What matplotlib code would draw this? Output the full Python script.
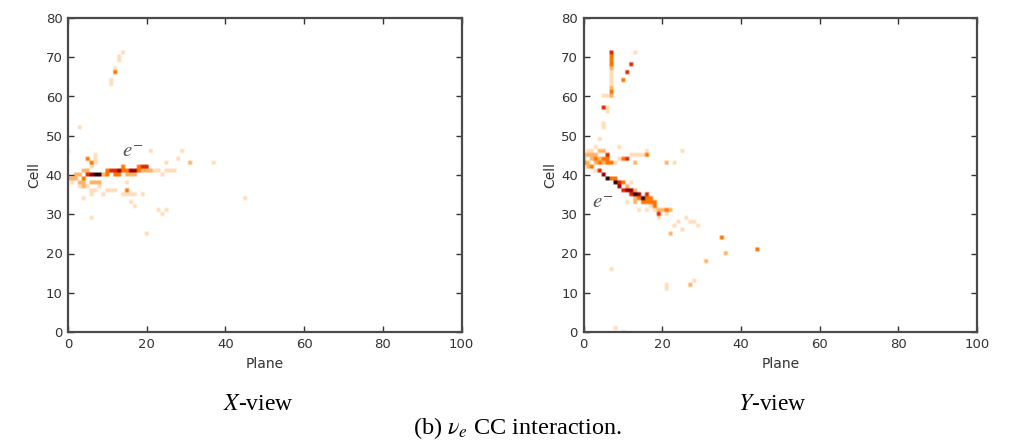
import numpy as np
import matplotlib
matplotlib.use("Agg")
import matplotlib.pyplot as plt

plt.rcParams['mathtext.fontset'] = 'stix'

# hit intensity per level, 0 = empty, 1 = black
level_pale = 0.07
level_light = 0.15
level_orange = 0.27
level_red = 0.42
level_dark = 0.58
level_black = 0.9

# X view hits as (plane, cell)
x_pale = [(14, 71), (13, 70), (13, 69), (12, 67), (11, 64), (11, 63), (3, 52), (0, 46),
          (7, 45), (7, 44), (7, 43), (6, 42), (21, 46), (29, 46), (28, 44), (37, 43), (25, 43),
          (26, 41), (27, 41), (45, 34), (20, 25), (23, 31), (25, 31), (24, 30), (6, 29),
          (17, 32), (16, 33), (15, 38), (10, 36), (11, 36), (12, 36), (14, 35), (15, 35),
          (16, 35), (17, 35), (19, 35), (6, 35), (7, 36), (9, 35), (4, 34), (1, 38),
          (5, 37), (3, 37), (6, 36), (8, 37), (24, 40), (25, 41), (22, 41), (23, 41)]
x_light = [(31, 43), (0, 39), (1, 39), (2, 39), (3, 40), (4, 41), (3, 38), (4, 38), (4, 37),
           (6, 38), (7, 38), (8, 38), (19, 41), (20, 41), (21, 41), (16, 40), (17, 40),
           (2, 40), (5, 41), (9, 40), (15, 40)]
x_orange = [(12, 66), (5, 44), (6, 43), (15, 36), (10, 40), (12, 40), (13, 40), (14, 42),
            (18, 42), (14, 41), (15, 41), (18, 41), (4, 39), (10, 41)]
x_red = [(11, 41), (12, 41), (19, 42), (20, 42), (5, 40)]
x_dark = [(13, 41), (16, 41), (17, 41), (6, 40)]
x_black = [(7, 40), (8, 40)]

# Y view hits as (plane, cell)
y_pale = [(7, 66), (7, 65), (7, 64), (7, 63), (5, 60), (6, 60), (6, 57), (6, 56), (5, 53),
          (5, 52), (4, 49), (13, 71), (25, 46), (9, 47), (3, 47), (9, 44), (12, 45), (13, 45),
          (14, 45), (15, 45), (16, 46), (23, 43), (3, 41), (12, 38), (14, 31), (16, 31),
          (26, 29), (24, 28), (27, 28), (28, 28), (29, 27), (23, 27), (25, 26), (19, 29),
          (21, 30), (21, 12), (21, 11), (8, 1), (10, 0), (28, 13), (7, 16), (11, 33),
          (18, 31), (17, 32), (8, 43), (1, 46), (2, 46)]
y_light = [(7, 67), (7, 62), (7, 60), (1, 45), (2, 45), (4, 46), (5, 46), (2, 44), (3, 43),
           (13, 43), (21, 43), (22, 25), (13, 34), (13, 33), (20, 31), (22, 31), (27, 12),
           (31, 18), (36, 20), (0, 45), (0, 44), (1, 42), (4, 44), (3, 45), (5, 43), (1, 43),
           (19, 31), (11, 37), (13, 36)]
y_orange = [(7, 70), (7, 69), (7, 68), (7, 61), (10, 64), (0, 43), (3, 44), (4, 43), (2, 42),
            (6, 44), (7, 43), (10, 44), (16, 45), (7, 39), (10, 38), (16, 34), (17, 34),
            (17, 33), (18, 33), (18, 32), (21, 31), (35, 24), (44, 21), (15, 33), (14, 34),
            (16, 33), (6, 43), (5, 44), (8, 39)]
y_red = [(7, 71), (5, 57), (12, 68), (11, 66), (6, 45), (11, 44), (4, 41), (19, 30), (16, 35),
         (10, 36), (9, 38), (12, 35)]
y_dark = [(9, 37), (11, 36), (12, 36), (5, 40), (14, 35)]
y_black = [(6, 39), (8, 38), (13, 35), (15, 34)]

planes_ticks = [0, 20, 40, 60, 80, 100]
cells_ticks = [0, 10, 20, 30, 40, 50, 60, 70, 80]


def fill(groups):
    img = np.zeros((80, 100))
    for hits, val in groups:
        for p, c in hits:
            img[c, p] = val
    # repeat the cells so the smoothing only softens their edges
    return np.repeat(np.repeat(img, 2, axis=0), 2, axis=1)


x_img = fill([(x_pale, level_pale), (x_light, level_light), (x_orange, level_orange),
              (x_red, level_red), (x_dark, level_dark), (x_black, level_black)])
y_img = fill([(y_pale, level_pale), (y_light, level_light), (y_orange, level_orange),
              (y_red, level_red), (y_dark, level_dark), (y_black, level_black)])

fig = plt.figure(figsize=(10.15, 4.42), dpi=100)
W, H = 1015.0, 442.0


def draw_view(img, left, label_xy):
    ax = fig.add_axes([left / W, 1 - 332 / H, 393.5 / W, 314 / H])
    ax.imshow(img, cmap='gist_heat_r', vmin=0, vmax=1, origin='lower', aspect='auto',
              extent=(-0.5, 99.5, -0.5, 79.5), interpolation='bilinear')
    ax.set_xlim(0, 100)
    ax.set_ylim(0, 80)
    ax.set_xticks(planes_ticks)
    ax.set_yticks(cells_ticks)
    ax.tick_params(direction='in', top=True, right=True, length=4, width=1,
                   labelsize=9.5, color='#333333', labelcolor='#333333', pad=4)
    for s in ax.spines.values():
        s.set_linewidth(1.6)
        s.set_color('#4a4a4a')
    ax.set_xlabel('Plane', fontsize=10, color='#333333', labelpad=5)
    ax.set_ylabel('Cell', fontsize=10, color='#333333', labelpad=3)
    ax.text(label_xy[0], label_xy[1], r'$e^{-}$', fontsize=15, color='#555555',
            ha='center', va='center')
    return ax


draw_view(x_img, 68, (16.5, 46))
draw_view(y_img, 583.5, (5, 33))

serif = 'Liberation Serif'
fig.text(258 / W, 1 - 405 / H, r'$X$-view', fontsize=17, family=serif, ha='center', va='center')
fig.text(772 / W, 1 - 405 / H, r'$Y$-view', fontsize=17, family=serif, ha='center', va='center')
fig.text(518 / W, 1 - 428 / H, r'(b) $\nu_e$ CC interaction.', fontsize=17.5, family=serif,
         ha='center', va='center')

fig.savefig('out.png', dpi=100)
